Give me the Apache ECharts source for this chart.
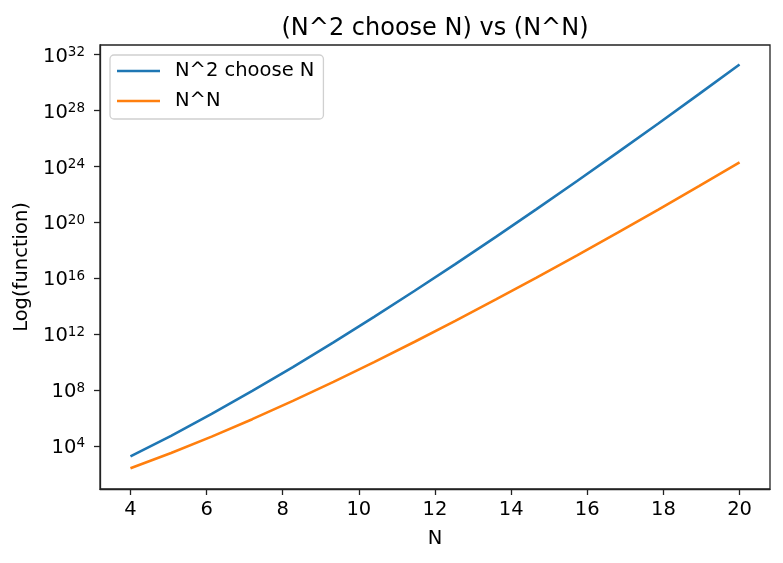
<!DOCTYPE html>
<html>
<head>
<meta charset="utf-8">
<script src="https://cdn.jsdelivr.net/npm/echarts@6/dist/echarts.min.js"></script>
<style>
html,body{margin:0;padding:0;background:#fff;}
#chart{width:783px;height:563px;}
</style>
</head>
<body>
<div id="chart"></div>
<script>
// x positions of the plotted points (16 points spread evenly from 4 to 20)
const xValues = [4, 5.067, 6.133, 7.2, 8.267, 9.333, 10.4, 11.467, 12.533, 13.6, 14.667, 15.733, 16.8, 17.867, 18.933, 20];
// "N^2 choose N"
const chooseValues = [1820, 53130, 1947792, 85900584, 4426165368, 260887834350, 17310309456440,
  1.277e15, 1.036e17, 9.18e18, 8.83e20, 9.13e22, 1.011e25, 1.194e27, 1.499e29, 1.99e31];
// "N^N"
const powValues = [256, 3125, 46656, 823543, 16777216, 387420489, 1e10,
  2.853e11, 8.916e12, 3.029e14, 1.111e16, 4.379e17, 1.845e19, 8.272e20, 3.935e22, 1.978e24];
const xTicks = [4, 6, 8, 10, 12, 14, 16, 18, 20];
const yTicks = [1e4, 1e8, 1e12, 1e16, 1e20, 1e24, 1e28, 1e32];
const seriesNames = ['N^2 choose N', 'N^N'];

const FONT = 'DejaVu Sans';
const chart = echarts.init(document.getElementById('chart'), null, {renderer: 'canvas'});
const pairs = arr => xValues.map((x, i) => [x, arr[i]]);

chart.setOption({
  animation: false,
  backgroundColor: '#fff',
  textStyle: {fontFamily: FONT, color: '#000'},
  title: {
    text: '(N^2 choose N) vs (N^N)',
    left: 430, textAlign: 'center', top: 12,
    textStyle: {fontFamily: FONT, fontSize: 24, fontWeight: 'normal', color: '#000'}
  },
  grid: {left: 100, right: 13, top: 45, bottom: 74, show: true, borderColor: '#222', borderWidth: 1.3, backgroundColor: 'transparent'},
  legend: {
    left: 110, top: 55, orient: 'vertical',
    backgroundColor: '#fff', borderColor: '#d0d0d0', borderWidth: 1.3, borderRadius: 4,
    padding: [6, 9, 8, 7], itemGap: 10,
    itemWidth: 43, itemHeight: 2.6, icon: 'rect',
    textStyle: {fontFamily: FONT, fontSize: 19.5, color: '#000', padding: [0, 0, 0, 10]},
    data: seriesNames
  },
  xAxis: {
    type: 'value', min: 3.2, max: 20.8,
    name: 'N', nameLocation: 'middle', nameGap: 40,
    nameTextStyle: {fontFamily: FONT, fontSize: 19.5, color: '#000'},
    axisLine: {show: true, lineStyle: {color: '#222', width: 1.3}},
    axisTick: {show: true, length: 6, lineStyle: {color: '#222', width: 1.3}, customValues: xTicks},
    axisLabel: {fontFamily: FONT, fontSize: 19.5, color: '#000', margin: 11, customValues: xTicks},
    splitLine: {show: false}
  },
  yAxis: {
    type: 'log', logBase: 10,
    min: Math.pow(10, 0.92), max: Math.pow(10, 32.69),
    name: 'Log(function)', nameLocation: 'middle', nameGap: 64,
    nameTextStyle: {fontFamily: FONT, fontSize: 19.5, color: '#000'},
    axisLine: {show: true, lineStyle: {color: '#222', width: 1.3}},
    axisTick: {show: true, length: 6, lineStyle: {color: '#222', width: 1.3}, customValues: yTicks},
    axisLabel: {
      fontFamily: FONT, color: '#000', margin: 15, customValues: yTicks,
      padding: [3, 0, 0, 0],
      formatter: v => '{b|10}{s|' + Math.round(Math.log10(v)) + '}',
      rich: {
        b: {fontFamily: FONT, fontSize: 19.5, color: '#000', verticalAlign: 'bottom', lineHeight: 21},
        s: {fontFamily: FONT, fontSize: 13.5, color: '#000', verticalAlign: 'top', lineHeight: 21}
      }
    },
    splitLine: {show: false}
  },
  series: [
    {name: seriesNames[0], type: 'line', data: pairs(chooseValues), symbol: 'none', lineStyle: {color: '#1f77b4', width: 2.6}, itemStyle: {color: '#1f77b4'}},
    {name: seriesNames[1], type: 'line', data: pairs(powValues), symbol: 'none', lineStyle: {color: '#ff7f0e', width: 2.6}, itemStyle: {color: '#ff7f0e'}}
  ]
});
</script>
</body>
</html>
